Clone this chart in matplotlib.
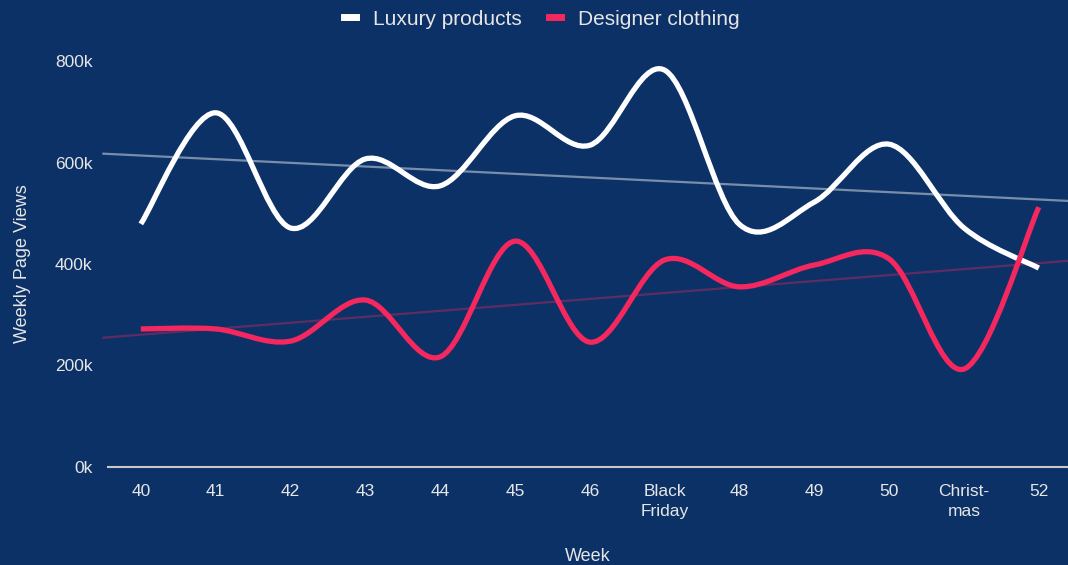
import numpy as np
import matplotlib
matplotlib.use("Agg")
from matplotlib import pyplot
from matplotlib.path import Path
from matplotlib.patches import PathPatch
from matplotlib.lines import Line2D
from matplotlib.ticker import FuncFormatter

weeks = [40, 41, 42, 43, 44, 45, 46, 47, 48, 49, 50, 51, 52]
week_labels = ["40", "41", "42", "43", "44", "45", "46", "Black\nFriday",
               "48", "49", "50", "Christ-\nmas", "52"]
luxury = [479, 698, 471, 607, 554, 692, 634, 782, 478, 522, 636, 471, 392]
designer = [272, 272, 248, 329, 217, 445, 246, 408, 355, 398, 410, 193, 512]

BG = "#0b3166"
PINK = "#f4285e"
TEXT = "#e6e6e6"


def catmull_path(xs, ys):
    # uniform catmull-rom curve through the points, as bezier segments
    xs = np.asarray(xs, float)
    ys = np.asarray(ys, float)
    px = np.concatenate([[xs[0]], xs, [xs[-1]]])
    py = np.concatenate([[ys[0]], ys, [ys[-1]]])
    verts = [(xs[0], ys[0])]
    codes = [Path.MOVETO]
    for i in range(1, len(xs)):
        a, b, c = i - 1, i, i + 1
        c1 = (px[b] + (px[c] - px[a]) / 6, py[b] + (py[c] - py[a]) / 6)
        c2 = (px[c] - (px[c + 1] - px[b]) / 6, py[c] - (py[c + 1] - py[b]) / 6)
        verts += [c1, c2, (px[c], py[c])]
        codes += [Path.CURVE4] * 3
    return Path(verts, codes)


pyplot.rcParams["font.family"] = ["Liberation Sans", "DejaVu Sans"]

fig = pyplot.figure(figsize=(10.68, 5.65), dpi=100, facecolor=BG)
ax = fig.add_axes([0.101, 0.1735, 0.899, 0.7185], facecolor=BG)

x = np.array(weeks, float)
lux = np.array(luxury) * 1000
des = np.array(designer) * 1000

# linear trend for each series
xt = np.array([39.5, 52.5])
for vals, col, a in [(lux, "#ffffff", 0.45), (des, PINK, 0.35)]:
    k, b = np.polyfit(x, vals, 1)
    ax.plot(xt, k * xt + b, color=col, alpha=a, lw=1.6, clip_on=False, zorder=2)

for vals, col in [(lux, "#ffffff"), (des, PINK)]:
    patch = PathPatch(catmull_path(x, vals), facecolor="none", edgecolor=col,
                      lw=3.8, capstyle="butt", joinstyle="round", zorder=3)
    patch.set_clip_on(False)
    ax.add_patch(patch)

ax.set_xlim(39.56, 52.39)
ax.set_ylim(0, 800000)
ax.set_xticks(weeks)
ax.set_xticklabels(week_labels, linespacing=1.45)
ax.set_yticks([0, 200000, 400000, 600000, 800000])
ax.yaxis.set_major_formatter(FuncFormatter(lambda v, p: "%dk" % round(v / 1000)))
ax.tick_params(axis="both", length=0, colors=TEXT, labelsize=12.5)
ax.tick_params(axis="y", pad=11)
ax.tick_params(axis="x", pad=12)

for s in ["top", "right", "left"]:
    ax.spines[s].set_visible(False)
ax.spines["bottom"].set_color("#c8c8c8")
ax.spines["bottom"].set_linewidth(1.5)

ax.set_ylabel("Weekly Page Views", color=TEXT, fontsize=13, labelpad=17)
ax.set_xlabel("Week", color=TEXT, fontsize=13, labelpad=21)

handles = [Line2D([], [], color="#ffffff", lw=5),
           Line2D([], [], color=PINK, lw=5)]
fig.legend(handles, ["Luxury products", "Designer clothing"], loc="center",
           bbox_to_anchor=(0.507, 0.966), ncol=2, frameon=False, fontsize=15,
           labelcolor=TEXT, handlelength=0.6, handletextpad=0.8, columnspacing=1.3)

fig.savefig("out.png", dpi=100, facecolor=BG)
